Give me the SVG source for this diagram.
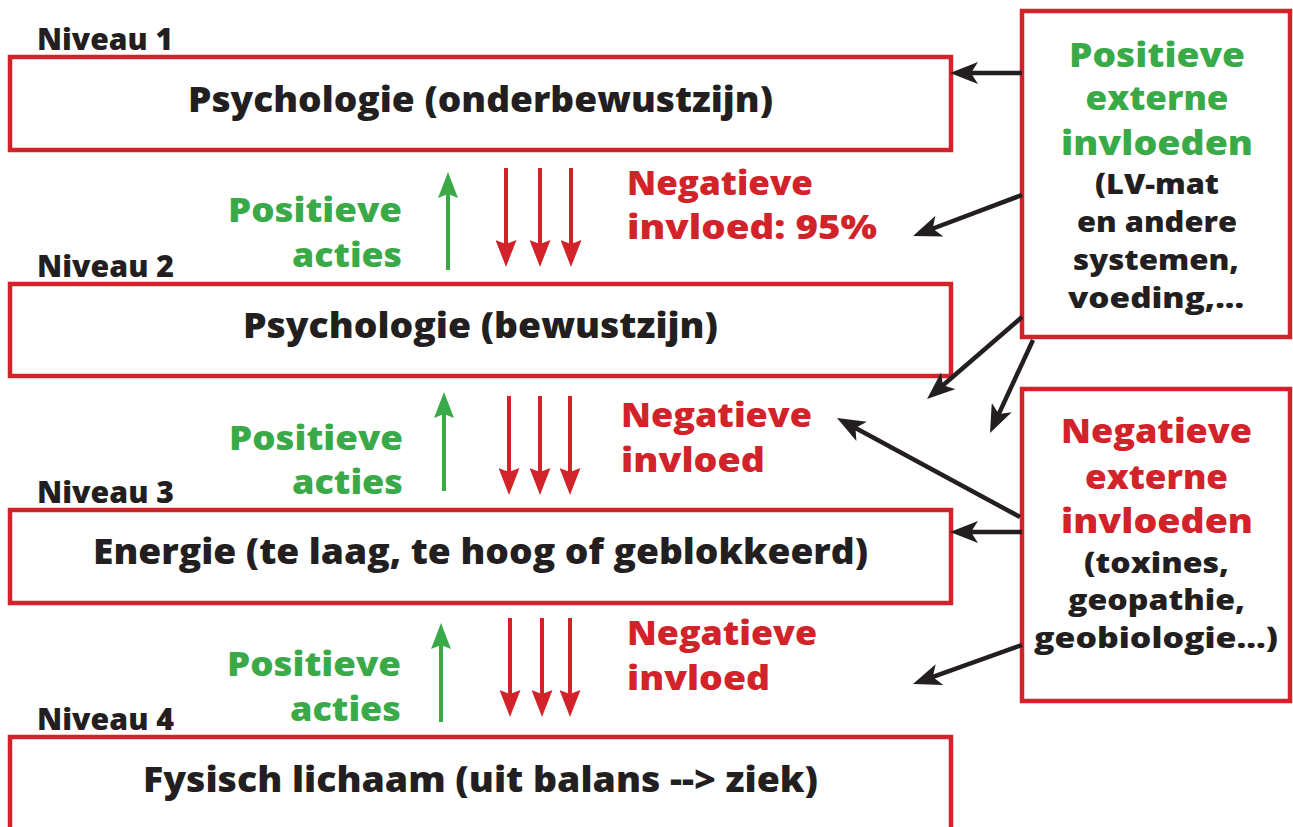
<svg xmlns="http://www.w3.org/2000/svg" width="1293" height="827" viewBox="0 0 1293 827">
<style>
.box{fill:#fff;stroke:#d2232a;stroke-width:4.5}
.t{font-family:"Open Sans","Liberation Sans",sans-serif;font-weight:800}
.main{font-size:35px;fill:#231f20;text-anchor:middle}
.niv{font-size:30px;fill:#231f20}
.g{font-size:34px;fill:#3aaa48}
.r{font-size:34px;fill:#d2232a}
.blk{font-size:29px;fill:#231f20;text-anchor:middle}
.mid{text-anchor:middle}
.end{text-anchor:end}
.conn{stroke:#231f20;stroke-width:4.5;fill:none;marker-end:url(#ab)}
.ga{stroke:#3aaa48;stroke-width:4;fill:none;marker-end:url(#ag)}
.ra{stroke:#d2232a;stroke-width:4;fill:none;marker-end:url(#ar)}
</style>
<defs>
<marker id="ab" markerUnits="userSpaceOnUse" viewBox="0 0 28 22" markerWidth="28" markerHeight="22" refX="18" refY="11" orient="auto">
<path d="M28,11 L0,0 L7,11 L0,22 Z" fill="#231f20"/>
</marker>
<marker id="ag" markerUnits="userSpaceOnUse" viewBox="0 0 26 20" markerWidth="26" markerHeight="20" refX="14" refY="10" orient="auto">
<path d="M26,10 L0,0 L4,10 L0,20 Z" fill="#3aaa48"/>
</marker>
<marker id="ar" markerUnits="userSpaceOnUse" viewBox="0 0 27 21" markerWidth="27" markerHeight="21" refX="15" refY="10.5" orient="auto">
<path d="M27,10.5 L0,0 L4,10.5 L0,21 Z" fill="#d2232a"/>
</marker>
</defs>
<rect width="1293" height="827" fill="#fff"/>

<g id="niveau1">
<text class="t niv" x="37" y="50" textLength="136" lengthAdjust="spacingAndGlyphs">Niveau 1</text>
<rect class="box" x="10" y="57" width="941" height="93"/>
<text class="t main" x="480.5" y="112" textLength="585" lengthAdjust="spacingAndGlyphs">Psychologie (onderbewustzijn)</text>
</g>
<g id="niveau2">
<text class="t niv" x="37" y="277" textLength="137" lengthAdjust="spacingAndGlyphs">Niveau 2</text>
<rect class="box" x="10" y="284" width="941" height="92"/>
<text class="t main" x="480.5" y="338" textLength="475" lengthAdjust="spacingAndGlyphs">Psychologie (bewustzijn)</text>
</g>
<g id="niveau3">
<text class="t niv" x="37" y="503" textLength="137" lengthAdjust="spacingAndGlyphs">Niveau 3</text>
<rect class="box" x="10" y="510" width="941" height="93"/>
<text class="t main" x="480.5" y="564" textLength="775" lengthAdjust="spacingAndGlyphs">Energie (te laag, te hoog of geblokkeerd)</text>
</g>
<g id="niveau4">
<text class="t niv" x="37" y="730" textLength="137" lengthAdjust="spacingAndGlyphs">Niveau 4</text>
<rect class="box" x="10" y="737" width="941" height="100"/>
<text class="t main" x="480.5" y="792" textLength="675" lengthAdjust="spacingAndGlyphs">Fysisch lichaam (uit balans --&gt; ziek)</text>
</g>

<g id="labels12">
<text class="t g end" x="402" y="222" textLength="174" lengthAdjust="spacingAndGlyphs">Positieve</text>
<text class="t g end" x="402" y="267" textLength="110" lengthAdjust="spacingAndGlyphs">acties</text>
<text class="t r" x="627" y="195" textLength="186" lengthAdjust="spacingAndGlyphs">Negatieve</text>
<text class="t r" x="627" y="239" textLength="250" lengthAdjust="spacingAndGlyphs">invloed: 95%</text>
</g>
<g id="labels23">
<text class="t g end" x="403" y="450" textLength="174" lengthAdjust="spacingAndGlyphs">Positieve</text>
<text class="t g end" x="403" y="494" textLength="111" lengthAdjust="spacingAndGlyphs">acties</text>
<text class="t r" x="621" y="427" textLength="191" lengthAdjust="spacingAndGlyphs">Negatieve</text>
<text class="t r" x="621" y="472" textLength="144" lengthAdjust="spacingAndGlyphs">invloed</text>
</g>
<g id="labels34">
<text class="t g end" x="401" y="676" textLength="174" lengthAdjust="spacingAndGlyphs">Positieve</text>
<text class="t g end" x="401" y="721" textLength="111" lengthAdjust="spacingAndGlyphs">acties</text>
<text class="t r" x="627" y="645" textLength="190" lengthAdjust="spacingAndGlyphs">Negatieve</text>
<text class="t r" x="627" y="690" textLength="143" lengthAdjust="spacingAndGlyphs">invloed</text>
</g>

<g id="positieve-extern">
<rect class="box" x="1022" y="11" width="268" height="326"/>
<text class="t g mid" x="1157" y="67" textLength="176" lengthAdjust="spacingAndGlyphs">Positieve</text>
<text class="t g mid" x="1157" y="110" textLength="143" lengthAdjust="spacingAndGlyphs">externe</text>
<text class="t g mid" x="1157" y="155" textLength="192" lengthAdjust="spacingAndGlyphs">invloeden</text>
<text class="t blk" x="1157" y="194" textLength="124" lengthAdjust="spacingAndGlyphs">(LV-mat</text>
<text class="t blk" x="1157" y="232" textLength="160" lengthAdjust="spacingAndGlyphs">en andere</text>
<text class="t blk" x="1156" y="270" textLength="166" lengthAdjust="spacingAndGlyphs">systemen,</text>
<text class="t blk" x="1156" y="308" textLength="176" lengthAdjust="spacingAndGlyphs">voeding,...</text>
</g>
<g id="negatieve-extern">
<rect class="box" x="1022" y="389" width="268" height="312"/>
<text class="t r mid" x="1156.5" y="443" textLength="191" lengthAdjust="spacingAndGlyphs">Negatieve</text>
<text class="t r mid" x="1156.5" y="489" textLength="143" lengthAdjust="spacingAndGlyphs">externe</text>
<text class="t r mid" x="1157" y="533" textLength="192" lengthAdjust="spacingAndGlyphs">invloeden</text>
<text class="t blk" x="1156.5" y="573" textLength="145" lengthAdjust="spacingAndGlyphs">(toxines,</text>
<text class="t blk" x="1156.5" y="610" textLength="177" lengthAdjust="spacingAndGlyphs">geopathie,</text>
<text class="t blk" x="1156" y="648" textLength="244" lengthAdjust="spacingAndGlyphs">geobiologie...)</text>
</g>

<g id="connectors">
<line class="ga" x1="448" y1="270" x2="448" y2="184"/>
<line class="ra" x1="506" y1="168" x2="506" y2="255"/>
<line class="ra" x1="540" y1="168" x2="540" y2="255"/>
<line class="ra" x1="571" y1="168" x2="571" y2="255"/>
<line class="ga" x1="444" y1="491" x2="444" y2="404"/>
<line class="ra" x1="509" y1="396" x2="509" y2="483"/>
<line class="ra" x1="540" y1="396" x2="540" y2="483"/>
<line class="ra" x1="570" y1="396" x2="570" y2="483"/>
<line class="ga" x1="441" y1="722" x2="441" y2="635"/>
<line class="ra" x1="510" y1="618" x2="510" y2="705"/>
<line class="ra" x1="542" y1="618" x2="542" y2="705"/>
<line class="ra" x1="570" y1="618" x2="570" y2="705"/>
<line class="conn" x1="1022" y1="73" x2="960" y2="73"/>
<line class="conn" x1="1022" y1="195" x2="922.4" y2="232.5"/>
<line class="conn" x1="1022" y1="317" x2="934.6" y2="392.5"/>
<line class="conn" x1="1033" y1="340" x2="994.2" y2="423.9"/>
<line class="conn" x1="1020" y1="517" x2="845.8" y2="422.8"/>
<line class="conn" x1="1022" y1="532" x2="960" y2="532"/>
<line class="conn" x1="1022" y1="645" x2="922.4" y2="680.6"/>
</g>
</svg>
